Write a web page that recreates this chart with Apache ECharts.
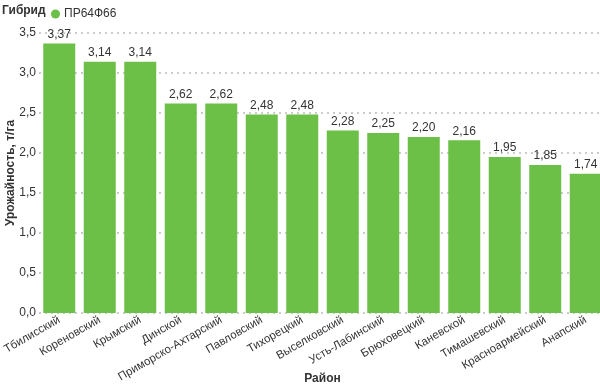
<!DOCTYPE html>
<html><head><meta charset="utf-8">
<script src="https://cdn.jsdelivr.net/npm/echarts@6/dist/echarts.min.js"></script>
<style>body{margin:0}#c{width:600px;height:385px}</style>
</head><body><div id="c"></div>
<script>
const categories = ['Тбилисский','Кореновский','Крымский','Динской','Приморско-Ахтарский','Павловский','Тихорецкий','Выселковский','Усть-Лабинский','Брюховецкий','Каневской','Тимашевский','Красноармейский','Анапский'];
const values = [3.37,3.14,3.14,2.62,2.62,2.48,2.48,2.28,2.25,2.20,2.16,1.95,1.85,1.74];
const seriesName = 'ПР64Ф66';
const fmt = v => v.toFixed(2).replace('.', ',');
const chart = echarts.init(document.getElementById('c'));
chart.setOption({
  animation:false,
  textStyle:{fontFamily:'Liberation Sans, Arial, sans-serif'},
  graphic:[{type:'text',left:2,top:5,style:{text:'Гибрид',font:'bold 12px Liberation Sans, Arial',fill:'#333'}}],
  legend:{left:46,top:3,itemWidth:9,itemHeight:9,icon:'circle',itemGap:4,textStyle:{fontSize:12,color:'#333',padding:[0,0,0,-1]},data:[seriesName]},
  grid:{left:39,top:33,width:567,height:280,containLabel:false,outerBoundsMode:'none'},
  xAxis:{type:'category',data:categories,name:'Район',nameLocation:'middle',nameGap:60,nameMoveOverlap:false,
    nameTextStyle:{fontWeight:'bold',fontSize:12,color:'#333'},
    axisLine:{show:false},axisTick:{show:false},
    axisLabel:{rotate:30,fontSize:11.5,color:'#333',interval:0,margin:6}},
  yAxis:{type:'value',min:0,max:3.5,interval:0.5,name:'Урожайность, т/га',nameLocation:'middle',nameGap:22,nameMoveOverlap:false,
    nameTextStyle:{fontWeight:'bold',fontSize:12,color:'#333'},
    axisLabel:{formatter:v=>v.toFixed(1).replace('.',','),fontSize:12,color:'#333',margin:3},
    splitLine:{lineStyle:{type:[2,4],color:'#bbb',width:1.5}}},
  series:[{type:'bar',name:seriesName,data:values,barWidth:'79%',itemStyle:{color:'#6cbf47'},
    label:{show:true,position:'top',formatter:p=>fmt(p.value),fontSize:12,color:'#333',distance:3}}]
});
</script></body></html>
